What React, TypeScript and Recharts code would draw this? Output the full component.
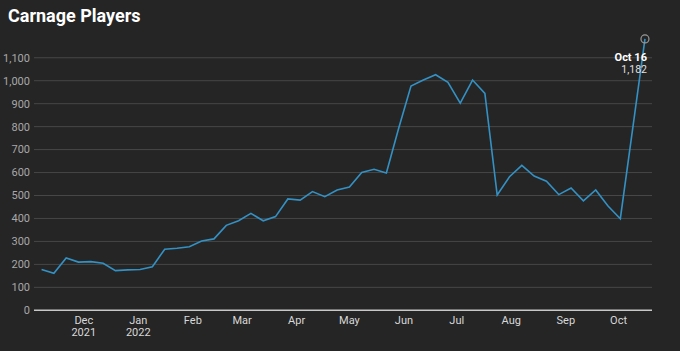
import { LineChart, Line, XAxis, YAxis, ReferenceLine } from "recharts";

// weekly samples (Sundays)
const weeks = [
    "2021-11-07", "2021-11-14", "2021-11-21", "2021-11-28", "2021-12-05", "2021-12-12", "2021-12-19", "2021-12-26",
    "2022-01-02", "2022-01-09", "2022-01-16", "2022-01-23", "2022-01-30", "2022-02-06", "2022-02-13", "2022-02-20",
    "2022-02-27", "2022-03-06", "2022-03-13", "2022-03-20", "2022-03-27", "2022-04-03", "2022-04-10", "2022-04-17",
    "2022-04-24", "2022-05-01", "2022-05-08", "2022-05-15", "2022-05-22", "2022-05-29", "2022-06-05", "2022-06-12",
    "2022-06-19", "2022-06-26", "2022-07-03", "2022-07-10", "2022-07-17", "2022-07-24", "2022-07-31", "2022-08-07",
    "2022-08-14", "2022-08-21", "2022-08-28", "2022-09-04", "2022-09-11", "2022-09-18", "2022-09-25", "2022-10-02",
    "2022-10-09", "2022-10-16",
];

const players = [
    178, 161, 228, 210, 212, 205, 173, 176, 178, 190,
    266, 270, 277, 302, 311, 370, 390, 422, 390, 408,
    485, 480, 517, 495, 524, 537, 600, 614, 598, 793,
    977, 1003, 1026, 993, 902, 1003, 945, 502, 582, 631,
    585, 562, 504, 533, 477, 524, 454, 399, 790, 1182,
];

const monthTicks = [
    "2021-12-01", "2022-01-01", "2022-02-01", "2022-03-01", "2022-04-01", "2022-05-01",
    "2022-06-01", "2022-07-01", "2022-08-01", "2022-09-01", "2022-10-01",
];
const monthLabels = [
    ["Dec", "2021"], ["Jan", "2022"], ["Feb"], ["Mar"], ["Apr"], ["May"],
    ["Jun"], ["Jul"], ["Aug"], ["Sep"], ["Oct"],
];

const yTicks = [0, 100, 200, 300, 400, 500, 600, 700, 800, 900, 1000, 1100];

const MONTHS = ["Jan", "Feb", "Mar", "Apr", "May", "Jun", "Jul", "Aug", "Sep", "Oct", "Nov", "Dec"];
const DAY = 86400000;
const toTime = (d: string) => Date.parse(d + "T00:00:00Z");

const data = weeks.map((w, i) => ({ t: toTime(w), players: players[i] }));
const tickTimes = monthTicks.map(toTime);

const FONT = "Roboto, 'Noto Sans', sans-serif";

const MonthTick = (props: any) => {
    const { x, y, payload } = props;
    const idx = tickTimes.indexOf(payload.value);
    const lines = monthLabels[idx] || [];
    return (
        <text x={x} y={y} textAnchor="middle" fill="#d8d8d8" fontSize={11} fontFamily={FONT}>
            {lines.map((l, i) => (
                <tspan key={i} x={x} dy={i === 0 ? 8 : 12}>{l}</tspan>
            ))}
        </text>
    );
};

const LastPoint = (props: any) => {
    const { cx, cy, index, payload } = props;
    if (index !== data.length - 1) return <g key={index} />;
    const d = new Date(payload.t);
    const label = `${MONTHS[d.getUTCMonth()]} ${d.getUTCDate()}`;
    return (
        <g key={index}>
            <circle cx={cx} cy={cy} r={4} fill="none" stroke="#9a9a9a" strokeWidth={1.2} />
            <text x={cx + 2} y={cy + 22} textAnchor="end" fill="#ffffff" fontWeight="bold" fontSize={11} fontFamily={FONT}>
                {label}
            </text>
            <text x={cx + 2} y={cy + 34} textAnchor="end" fill="#e0e0e0" fontSize={10.5} fontFamily={FONT}>
                {payload.players.toLocaleString("en-US")}
            </text>
        </g>
    );
};

export default function App() {
    return (
        <div style={{ position: "absolute", left: 0, top: 0, width: 680, height: 351, background: "#252525", overflow: "hidden" }}>
            <div
                style={{
                    position: "absolute",
                    left: 8,
                    top: 5,
                    color: "#ffffff",
                    fontFamily: FONT,
                    fontWeight: 700,
                    fontSize: 18,
                }}
            >
                Carnage Players
            </div>
            <LineChart width={680} height={351} data={data} margin={{ top: 34.8, right: 28, bottom: 0, left: 0 }}>
                {/* horizontal grid only at the labelled ticks */}
                {yTicks.slice(1).map((v) => (
                    <ReferenceLine key={v} y={v} stroke="#474747" strokeWidth={1} />
                ))}
                <XAxis
                    dataKey="t"
                    type="number"
                    scale="time"
                    domain={[toTime(weeks[0]) - 4.3 * DAY, toTime(weeks[weeks.length - 1]) + 4.0 * DAY]}
                    ticks={tickTimes}
                    tick={<MonthTick />}
                    tickLine={false}
                    tickSize={0}
                    tickMargin={6}
                    axisLine={{ stroke: "#c8c8c8", strokeWidth: 1.5 }}
                    height={40.7}
                    interval={0}
                />
                <YAxis
                    domain={[0, 1200]}
                    ticks={yTicks}
                    tickFormatter={(v: number) => v.toLocaleString("en-US")}
                    tick={{ fill: "#a8a8a8", fontSize: 11, fontFamily: FONT }}
                    tickLine={false}
                    axisLine={false}
                    tickSize={0}
                    tickMargin={4}
                    width={34}
                    interval={0}
                />
                <Line
                    type="linear"
                    dataKey="players"
                    stroke="#3391c4"
                    strokeWidth={1.6}
                    dot={<LastPoint />}
                    activeDot={false}
                    isAnimationActive={false}
                />
            </LineChart>
        </div>
    );
}
